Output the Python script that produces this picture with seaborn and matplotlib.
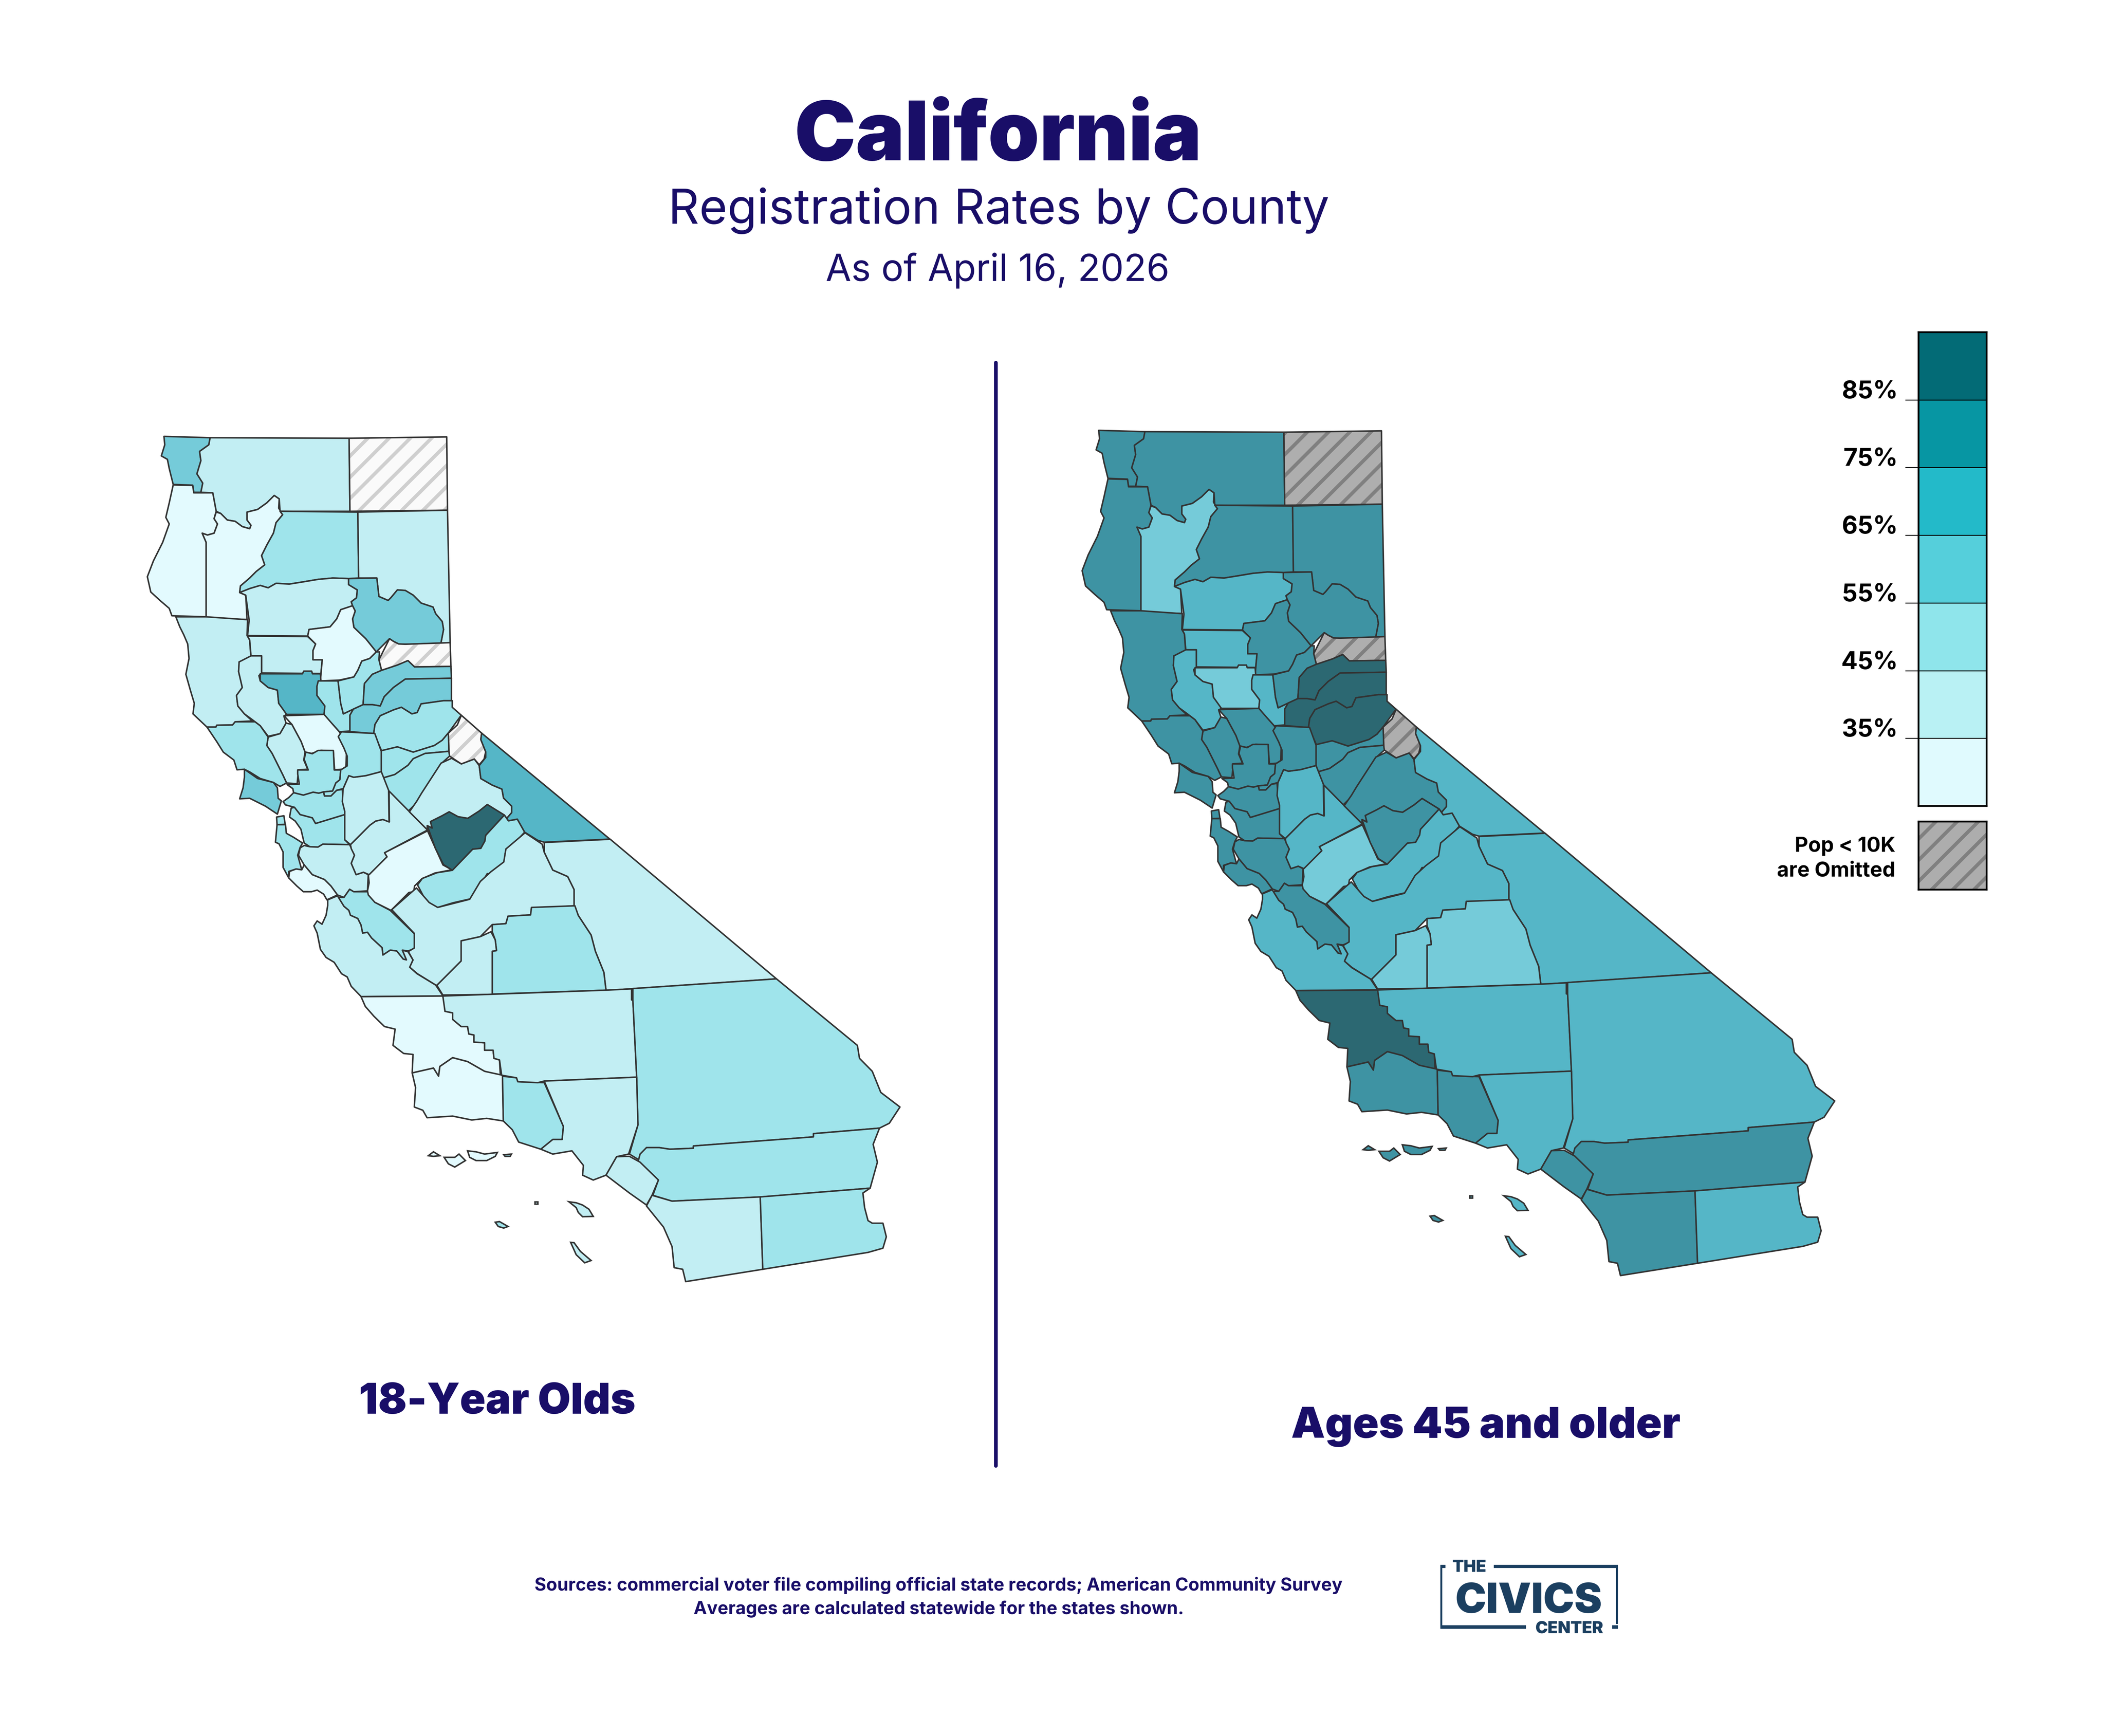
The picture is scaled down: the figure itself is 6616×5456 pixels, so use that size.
import numpy as np
import pandas as pd
import matplotlib
matplotlib.use('Agg')
import matplotlib.pyplot as plt
from matplotlib.colors import ListedColormap, BoundaryNorm
from matplotlib.patches import Polygon, Rectangle
import seaborn as sns

W, H = 6616, 5456

# county, registration rate of 18-year olds, rate of ages 45+ (nan = pop < 10K, omitted)
county_names = ['del_norte', 'siskiyou', 'modoc', 'humboldt', 'trinity', 'shasta', 'lassen', 'mendocino',
                'tehama', 'plumas', 'glenn', 'butte', 'sierra', 'lake', 'colusa', 'sutter', 'yuba', 'nevada',
                'placer', 'el_dorado', 'amador', 'alpine', 'calaveras', 'yolo', 'napa', 'sonoma', 'marin',
                'solano', 'contra_costa', 'alameda', 'san_francisco', 'san_mateo', 'santa_clara', 'santa_cruz',
                'san_benito', 'merced', 'stanislaus', 'san_joaquin', 'sacramento', 'tuolumne', 'mariposa',
                'madera', 'mono', 'inyo', 'fresno', 'tulare', 'kings', 'monterey', 'san_luis_obispo',
                'santa_barbara', 'ventura', 'kern', 'san_bernardino', 'riverside', 'los_angeles', 'orange',
                'san_diego', 'imperial']
rate_18 = [60, 40, np.nan, 30, 30, 50, 40, 40,
           40, 60, 40, 30, np.nan, 40, 70, 50, 50, 60,
           60, 50, 50, np.nan, 50, 30, 40, 50, 60,
           50, 50, 50, 50, 50, 40, 30,
           50, 30, 40, 40, 50, 40, 90,
           50, 70, 40, 40, 50, 40, 40, 30,
           30, 50, 40, 50, 50, 40, 40,
           40, 50]
rate_45 = [80, 80, np.nan, 80, 60, 80, 80, 80,
           70, 80, 70, 80, np.nan, 70, 60, 70, 80, 90,
           90, 90, 80, np.nan, 80, 80, 80, 80, 80,
           80, 80, 80, 80, 80, 80, 80,
           80, 60, 70, 70, 80, 80, 80,
           70, 70, 70, 70, 60, 60, 70, 90,
           80, 80, 70, 70, 80, 70, 80,
           80, 70]

class_edges = [0, 35, 45, 55, 65, 75, 85, 100]
legend_values = [90, 80, 70, 60, 50, 40, 30]
legend_ticks = ['85%', '75%', '65%', '55%', '45%', '35%']
legend_colors = ['#E0FAFE', '#B9F1F4', '#8FE5EB', '#55CFDB', '#23BAC9', '#0796A3', '#036B76']
map_colors = ['#E3FAFE', '#C2EEF3', '#9FE4EB', '#75CBD9', '#55B6C7', '#3E93A3', '#2C6872']

# outlines, each group in its own crop units
north = {
    'del_norte': [(115, 38), (290, 43), (285, 70), (250, 95), (255, 130), (240, 180), (262, 215), (255, 250), (228, 250), (224, 223), (150, 220), (135, 160), (128, 125), (105, 112), (118, 70)],
    'siskiyou': [(290, 43), (817, 45), (820, 322), (555, 322), (552, 275), (533, 262), (505, 290), (470, 315), (430, 325), (430, 355), (445, 375), (440, 388), (412, 380), (385, 360), (355, 355), (330, 330), (313, 322), (300, 252), (255, 250), (262, 215), (240, 180), (255, 130), (250, 95), (285, 70)],
    'modoc': [(817, 45), (1187, 40), (1190, 318), (820, 322)],
    'humboldt': [(150, 222), (224, 224), (228, 252), (300, 252), (313, 322), (305, 350), (318, 370), (305, 405), (280, 412), (260, 405), (275, 440), (275, 722), (145, 718), (135, 690), (100, 660), (65, 628), (52, 570), (75, 510), (110, 440), (135, 370), (122, 345), (135, 290)],
    'trinity': [(313, 325), (330, 330), (355, 355), (385, 360), (412, 380), (440, 388), (445, 375), (430, 355), (430, 325), (470, 315), (505, 290), (533, 262), (552, 275), (550, 310), (565, 335), (540, 365), (530, 405), (505, 450), (485, 490), (497, 525), (465, 550), (440, 575), (405, 605), (402, 630), (425, 640), (430, 732), (275, 730), (275, 440), (260, 405), (280, 412), (305, 405), (318, 370), (305, 350)],
    'shasta': [(555, 322), (850, 325), (853, 575), (815, 577), (755, 575), (700, 580), (640, 590), (590, 598), (540, 595), (510, 612), (480, 603), (440, 615), (402, 630), (405, 605), (440, 575), (465, 550), (497, 525), (485, 490), (505, 450), (530, 405), (540, 365), (565, 335)],
    'lassen': [(850, 325), (1190, 318), (1200, 820), (1165, 822), (1175, 770), (1170, 740), (1145, 710), (1135, 685), (1090, 670), (1060, 640), (1030, 622), (1000, 620), (975, 650), (965, 660), (930, 645), (922, 575), (853, 575)],
    'mendocino': [(160, 722), (275, 722), (432, 733), (430, 793), (440, 810), (445, 885), (400, 893), (398, 930), (412, 990), (390, 1020), (395, 1060), (420, 1090), (450, 1117), (385, 1120), (375, 1132), (315, 1133), (312, 1140), (278, 1140), (225, 1090), (230, 1050), (215, 1000), (198, 940), (210, 880), (205, 825), (190, 790), (175, 760)],
    'tehama': [(402, 630), (440, 615), (480, 603), (510, 612), (540, 595), (590, 598), (640, 590), (700, 580), (755, 575), (815, 577), (815, 600), (848, 620), (845, 650), (825, 665), (830, 680), (785, 695), (770, 730), (745, 760), (665, 770), (660, 795), (432, 793), (438, 735), (425, 640)],
    'plumas': [(815, 577), (922, 575), (930, 645), (965, 660), (975, 650), (1000, 620), (1030, 622), (1060, 640), (1090, 670), (1135, 685), (1145, 710), (1170, 740), (1175, 770), (1165, 822), (1030, 826), (1005, 825), (985, 815), (970, 805), (945, 830), (920, 855), (880, 805), (835, 762), (830, 730), (840, 700), (830, 680), (825, 665), (845, 650), (848, 620), (815, 600)],
    'glenn': [(432, 795), (660, 797), (690, 825), (680, 850), (680, 885), (715, 885), (710, 937), (485, 935), (485, 870), (445, 870), (440, 810)],
    'butte': [(665, 770), (745, 760), (770, 730), (785, 695), (830, 680), (840, 700), (830, 730), (835, 762), (880, 805), (920, 855), (895, 880), (865, 890), (850, 925), (835, 950), (780, 962), (708, 965), (715, 885), (680, 885), (680, 850), (690, 825), (660, 795)],
    'sierra': [(970, 805), (985, 815), (1005, 825), (1030, 826), (1200, 820), (1203, 910), (1065, 912), (1040, 888), (1000, 905), (940, 925), (930, 885), (945, 855)],
    'lake': [(445, 870), (485, 870), (485, 935), (475, 945), (480, 965), (510, 990), (545, 1000), (550, 1050), (580, 1090), (570, 1100), (578, 1125), (555, 1165), (510, 1175), (480, 1135), (450, 1112), (420, 1090), (395, 1060), (390, 1020), (412, 990), (398, 930), (400, 893)],
    'colusa': [(480, 938), (640, 938), (645, 928), (675, 928), (678, 938), (708, 938), (710, 965), (695, 985), (695, 1020), (725, 1060), (722, 1092), (580, 1092), (550, 1050), (545, 1000), (510, 990), (480, 965)],
    'sutter': [(700, 965), (775, 965), (785, 1050), (795, 1090), (833, 1072), (820, 1095), (820, 1155), (780, 1158), (755, 1130), (730, 1105), (722, 1092), (725, 1060), (695, 1020), (695, 985)],
    'yuba': [(775, 965), (835, 950), (850, 925), (865, 890), (895, 880), (920, 855), (932, 855), (930, 885), (940, 925), (905, 940), (875, 975), (870, 1055), (833, 1072), (795, 1090), (785, 1050)],
    'nevada': [(870, 1055), (875, 975), (905, 940), (940, 925), (1000, 905), (1040, 888), (1065, 912), (1203, 910), (1205, 955), (1030, 958), (985, 990), (950, 1025), (935, 1060), (905, 1055)],
    'placer': [(820, 1095), (833, 1072), (870, 1055), (905, 1055), (935, 1060), (950, 1025), (985, 990), (1030, 958), (1205, 955), (1205, 1040), (1175, 1040), (1090, 1052), (1075, 1085), (1055, 1090), (1015, 1065), (985, 1075), (935, 1097), (915, 1130), (910, 1165), (820, 1157)],
    'el_dorado': [(910, 1165), (915, 1130), (935, 1097), (985, 1075), (1015, 1065), (1055, 1090), (1075, 1085), (1090, 1052), (1175, 1040), (1208, 1040), (1208, 1065), (1242, 1095), (1195, 1160), (1170, 1190), (1140, 1210), (1060, 1235), (1000, 1215), (940, 1230), (925, 1195)],
    'amador': [(937, 1230), (1000, 1215), (1060, 1235), (1140, 1210), (1170, 1190), (1195, 1160), (1195, 1232), (1105, 1240), (1060, 1260), (1040, 1285), (990, 1320), (945, 1333), (938, 1305)],
    'calaveras': [(945, 1333), (990, 1320), (1040, 1285), (1060, 1260), (1105, 1240), (1195, 1232), (1198, 1250), (1170, 1275), (1130, 1345), (1090, 1410), (1070, 1430), (1040, 1460), (965, 1380)],
    'yolo': [(570, 1097), (722, 1092), (755, 1130), (780, 1158), (808, 1210), (805, 1290), (790, 1300), (762, 1302), (757, 1230), (710, 1228), (675, 1240), (650, 1235), (635, 1195), (600, 1130)],
    'napa': [(510, 1178), (555, 1165), (578, 1125), (600, 1130), (635, 1195), (650, 1235), (645, 1265), (660, 1300), (625, 1302), (620, 1355), (580, 1352), (565, 1320), (545, 1280), (525, 1240), (505, 1210)],
    'sonoma': [(278, 1140), (312, 1140), (315, 1133), (375, 1132), (385, 1120), (460, 1120), (480, 1135), (510, 1178), (505, 1210), (525, 1240), (545, 1280), (565, 1320), (580, 1352), (555, 1365), (530, 1350), (480, 1335), (440, 1310), (420, 1300), (392, 1302), (380, 1265), (340, 1235), (315, 1195)],
    'marin': [(420, 1300), (470, 1335), (530, 1350), (545, 1370), (548, 1410), (560, 1420), (545, 1470), (500, 1440), (480, 1430), (440, 1410), (402, 1412), (415, 1370), (420, 1330)],
}
bay = {
    'solano': [(355, 125), (395, 135), (430, 115), (525, 115), (530, 235), (570, 235), (565, 295), (540, 315), (520, 365), (465, 370), (435, 378), (400, 372), (340, 390), (280, 375), (275, 350), (240, 325), (315, 322), (305, 260), (305, 235), (370, 235), (345, 170)],
    'contra_costa': [(280, 375), (340, 390), (400, 372), (435, 378), (465, 370), (470, 395), (510, 395), (545, 360), (580, 355), (585, 430), (595, 490), (595, 510), (415, 565), (395, 530), (320, 510), (285, 465), (230, 450), (215, 430), (250, 405)],
    'alameda': [(265, 470), (285, 465), (320, 510), (395, 530), (415, 565), (595, 510), (595, 665), (625, 695), (460, 692), (430, 710), (380, 708), (345, 685), (325, 600), (290, 550), (255, 525)],
    'san_francisco': [(175, 525), (220, 517), (228, 570), (178, 572)],
    'san_mateo': [(178, 572), (230, 572), (235, 625), (280, 650), (335, 685), (320, 712), (305, 760), (330, 850), (295, 845), (250, 860), (250, 900), (215, 835), (215, 740), (190, 690), (168, 680)],
    'santa_clara': [(345, 700), (380, 708), (430, 710), (460, 692), (625, 695), (655, 760), (635, 810), (665, 880), (710, 865), (740, 880), (735, 980), (650, 985), (625, 970), (590, 1020), (550, 1005), (510, 950), (470, 910), (395, 880), (345, 820), (310, 760), (320, 715)],
    'santa_cruz': [(250, 900), (255, 860), (295, 845), (330, 850), (345, 820), (395, 880), (470, 910), (510, 950), (550, 1005), (485, 1035), (465, 1000), (425, 975), (390, 985), (340, 985), (300, 950)],
    'san_benito': [(555, 1020), (590, 1020), (625, 970), (650, 985), (740, 985), (780, 1050), (875, 1100), (1025, 1245), (1025, 1335), (985, 1350), (950, 1345), (975, 1405), (955, 1400), (915, 1350), (875, 1345), (830, 1375), (825, 1330), (760, 1270), (735, 1235), (705, 1240), (695, 1190), (675, 1150), (630, 1130), (620, 1100), (590, 1075)],
    'merced': [(740, 880), (855, 770), (840, 745), (1105, 610), (1200, 820), (1255, 850), (1150, 870), (1070, 905), (1025, 950), (1020, 985), (990, 990), (880, 1100), (780, 1050), (740, 1005), (735, 980), (745, 930)],
    'stanislaus': [(630, 695), (750, 575), (785, 550), (830, 540), (870, 555), (868, 365), (1105, 605), (840, 745), (855, 770), (745, 880), (710, 865), (665, 880), (635, 810), (655, 760), (635, 720)],
    'san_joaquin': [(585, 350), (620, 270), (650, 280), (725, 270), (820, 245), (865, 360), (868, 555), (830, 540), (785, 550), (750, 575), (630, 695), (595, 665), (595, 490), (580, 430)],
    'sacramento': [(575, 0), (780, 10), (820, 120), (820, 245), (725, 270), (650, 280), (620, 270), (585, 350), (545, 360), (510, 395), (470, 395), (465, 370), (520, 365), (540, 315), (565, 295), (570, 235), (610, 210), (610, 150), (590, 100), (555, 30)],
    'monterey': [(490, 1035), (550, 1010), (590, 1075), (620, 1100), (630, 1130), (675, 1150), (695, 1190), (705, 1240), (735, 1235), (760, 1270), (825, 1330), (830, 1375), (875, 1345), (915, 1350), (955, 1400), (975, 1405), (950, 1345), (985, 1355), (1015, 1405), (995, 1450), (1040, 1490), (1155, 1560), (1200, 1627), (696, 1631), (635, 1568), (610, 1510), (575, 1490), (530, 1420), (480, 1390), (445, 1340), (425, 1240), (405, 1195), (425, 1165), (455, 1185), (480, 1130), (490, 1070)],
}
sierra_south = {
    'alpine': [(490, 290), (615, 400), (610, 440), (640, 515), (630, 560), (600, 595), (570, 560), (490, 590), (415, 540), (410, 400), (465, 350)],
    'tuolumne': [(170, 885), (215, 820), (245, 770), (365, 585), (430, 555), (490, 590), (570, 560), (600, 600), (610, 680), (680, 720), (740, 745), (750, 800), (800, 850), (800, 890), (770, 925), (755, 905), (650, 840), (600, 880), (530, 925), (470, 915), (415, 885), (370, 910), (300, 945), (310, 985), (280, 970), (280, 995)],
    'mariposa': [(280, 970), (310, 985), (300, 945), (370, 910), (415, 885), (470, 915), (530, 925), (600, 880), (650, 840), (755, 905), (640, 1030), (635, 1065), (610, 1110), (560, 1115), (435, 1245), (380, 1210), (330, 1110)],
    'madera': [(435, 1245), (560, 1115), (610, 1110), (635, 1065), (640, 1030), (755, 905), (780, 940), (835, 930), (880, 1010), (760, 1140), (755, 1230), (690, 1275), (650, 1265), (610, 1330), (550, 1420), (440, 1445), (340, 1475), (270, 1430), (220, 1335), (250, 1295), (340, 1260)],
    'mono': [(615, 400), (1405, 1053), (1000, 1072), (960, 1060), (880, 1010), (835, 930), (780, 940), (770, 925), (800, 890), (800, 850), (750, 800), (740, 745), (680, 720), (610, 680), (600, 600), (640, 550), (640, 515), (610, 440)],
}
south = {
    'inyo': [(680, 145), (835, 135), (1225, 565), (835, 600), (825, 600), (820, 545), (800, 480), (790, 430), (760, 370), (750, 340), (750, 290), (735, 250), (700, 230), (680, 175)],
    'fresno': [(322, 352), (380, 285), (410, 330), (430, 345), (505, 320), (530, 265), (555, 235), (585, 205), (590, 165), (635, 115), (675, 150), (680, 175), (700, 230), (735, 250), (750, 290), (750, 340), (650, 348), (648, 368), (595, 372), (590, 395), (558, 398), (530, 435), (485, 448), (485, 510), (428, 585), (425, 584), (382, 549), (364, 529), (372, 507), (361, 481), (375, 470), (375, 425)],
    'tulare': [(558, 398), (590, 395), (595, 372), (648, 368), (650, 345), (752, 340), (760, 370), (790, 430), (800, 480), (820, 545), (825, 600), (558, 612), (558, 480), (568, 478), (565, 445), (558, 420)],
    'kings': [(485, 448), (530, 435), (555, 420), (565, 445), (568, 478), (558, 480), (558, 613), (442, 615), (428, 585), (485, 510)],
    'san_luis_obispo': [(250, 620), (445, 618), (447, 665), (465, 670), (465, 690), (485, 712), (500, 712), (503, 735), (515, 738), (515, 760), (540, 762), (540, 785), (560, 785), (562, 810), (575, 815), (577, 862), (540, 850), (500, 820), (465, 808), (435, 835), (432, 865), (420, 840), (370, 855), (372, 798), (350, 795), (325, 770), (330, 720), (305, 712), (280, 680), (260, 650)],
    'santa_barbara': [(370, 855), (420, 840), (432, 865), (435, 835), (465, 808), (500, 820), (540, 850), (582, 862), (584, 1003), (545, 995), (510, 1000), (465, 988), (405, 993), (395, 970), (375, 960), (378, 900)],
    'ventura': [(582, 865), (615, 870), (618, 882), (680, 885), (725, 1020), (722, 1060), (700, 1060), (672, 1090), (620, 1068), (605, 1030), (584, 1003)],
    'kern': [(442, 618), (825, 600), (885, 596), (885, 630), (888, 630), (897, 868), (680, 880), (665, 885), (618, 882), (615, 870), (580, 862), (575, 815), (562, 810), (560, 785), (540, 785), (540, 762), (515, 760), (515, 738), (503, 735), (500, 712), (485, 712), (465, 690), (465, 670), (447, 665)],
    'san_bernardino': [(888, 595), (1215, 566), (1225, 565), (1415, 770), (1420, 810), (1450, 850), (1470, 915), (1515, 960), (1490, 1010), (1467, 1025), (1312, 1042), (1312, 1052), (1030, 1080), (1030, 1087), (975, 1090), (950, 1085), (920, 1085), (905, 1125), (880, 1105), (900, 1015), (897, 868), (888, 630)],
    'riverside': [(920, 1085), (950, 1085), (975, 1090), (1030, 1087), (1030, 1080), (1312, 1052), (1312, 1042), (1467, 1025), (1452, 1075), (1462, 1130), (1445, 1210), (1190, 1237), (980, 1250), (935, 1232), (948, 1185), (900, 1130), (905, 1105)],
    'los_angeles': [(680, 880), (897, 868), (900, 1015), (878, 1105), (850, 1113), (825, 1170), (795, 1185), (770, 1170), (772, 1140), (745, 1095), (700, 1105), (672, 1090), (700, 1060), (722, 1060), (725, 1020)],
    'orange': [(850, 1113), (880, 1112), (905, 1130), (948, 1185), (933, 1232), (920, 1262), (880, 1225), (825, 1170)],
    'san_diego': [(933, 1232), (980, 1250), (1187, 1237), (1193, 1460), (1012, 1498), (1005, 1460), (985, 1455), (980, 1390), (960, 1330), (920, 1265)],
    'imperial': [(1187, 1237), (1445, 1210), (1428, 1225), (1432, 1270), (1440, 1310), (1450, 1318), (1475, 1318), (1483, 1360), (1475, 1395), (1440, 1408), (1193, 1460)],
}
islands = [
    ('santa_barbara', [(408, 1110), (420, 1098), (435, 1110), (420, 1112)]),
    ('santa_barbara', [(445, 1115), (470, 1115), (480, 1105), (495, 1125), (470, 1145), (455, 1135)]),
    ('santa_barbara', [(500, 1095), (520, 1098), (540, 1105), (570, 1100), (565, 1112), (545, 1125), (520, 1125), (505, 1115)]),
    ('ventura', [(585, 1107), (603, 1105), (600, 1112), (588, 1112)]),
    ('los_angeles', [(658, 1252), (665, 1252), (665, 1259), (658, 1259)]),
    ('los_angeles', [(738, 1252), (755, 1255), (770, 1262), (785, 1275), (795, 1297), (770, 1298), (760, 1285), (755, 1270)]),
    ('ventura', [(565, 1315), (575, 1313), (595, 1328), (585, 1333), (572, 1328)]),
    ('los_angeles', [(742, 1377), (750, 1378), (765, 1405), (790, 1433), (775, 1440), (755, 1415)]),
]


def to_map(points, x0, y0, sx, sy):
    # crop units to map units (pixels of the left map)
    arr = np.array(points, dtype=float)
    return np.column_stack([x0 + arr[:, 0] * sx, y0 + arr[:, 1] * sy])


outlines = {}
for name, pts in north.items():
    outlines[name] = to_map(pts, 420, 1340, 0.829, 0.829)
for name, pts in bay.items():
    outlines[name] = to_map(pts, 780, 2300, 0.5102, 0.5102)
for name, pts in sierra_south.items():
    outlines[name] = to_map(pts, 1200, 2100, 0.5102, 0.5102)
for name, pts in south.items():
    outlines[name] = to_map(pts, 800, 2500, 1.339, 1.02)

df = pd.DataFrame({'county': county_names, 'rate_18': rate_18, 'rate_45': rate_45}).set_index('county')

sns.set_theme(style='white')
plt.rcParams['font.family'] = ['Inter', 'DejaVu Sans']
plt.rcParams['hatch.linewidth'] = 2.0

NAVY = '#190E68'
LOGO = '#1B3F60'
EDGE = '#333333'
map_pal = sns.color_palette(map_colors)
legend_pal = sns.color_palette(legend_colors)
map_norm = BoundaryNorm(class_edges, 7)
map_cmap = ListedColormap(map_pal)

fig = plt.figure(figsize=(W / 400, H / 400), dpi=400, facecolor='white')


def add_px_axes(x0, y0, x1, y1):
    return fig.add_axes([x0 / W, 1 - y1 / H, (x1 - x0) / W, (y1 - y0) / H])


def put_text(x, y, s, size, weight='normal', color=NAVY, ha='center', va='baseline'):
    return fig.text(x / W, 1 - y / H, s, fontsize=size, fontweight=weight, color=color, ha=ha, va=va)


def draw_map(column, dx, dy, hatch_face, hatch_line):
    ax = add_px_axes(400 + dx, 1300 + dy, 2900 + dx, 4100 + dy)
    ax.set_xlim(400, 2900)
    ax.set_ylim(4100, 1300)
    ax.axis('off')
    ax.patch.set_alpha(0)
    for name in df.index:
        pts = outlines[name]
        value = df.loc[name, column]
        if np.isnan(value):
            ax.add_patch(Polygon(pts, closed=True, facecolor=hatch_face, edgecolor=hatch_line, hatch='//', lw=0))
            ax.add_patch(Polygon(pts, closed=True, fill=False, edgecolor=EDGE, lw=0.85, joinstyle='round'))
        else:
            ax.add_patch(Polygon(pts, closed=True, facecolor=map_cmap(map_norm(value)), edgecolor=EDGE, lw=0.85, joinstyle='round'))
    for parent, pts in islands:
        ring = to_map(pts, 800, 2500, 1.339, 1.02)
        ax.add_patch(Polygon(ring, closed=True, facecolor=map_cmap(map_norm(df.loc[parent, column])), edgecolor=EDGE, lw=0.85))
    return ax


draw_map('rate_18', 0, 0, '#FAFAFA', '#CFCFCF')
draw_map('rate_45', 2938, -19, '#AEAEAE', '#808080')

# divider between the two maps
div = add_px_axes(3080, 1100, 3180, 4650)
div.plot([0.5, 0.5], [1140, 4607], color=NAVY, lw=2.1, solid_capstyle='round')
div.set_xlim(0, 1)
div.set_ylim(4650, 1100)
div.axis('off')

# legend
cax = add_px_axes(6030, 1044, 6244, 2533)
sns.heatmap(np.array(legend_values).reshape(-1, 1), ax=cax, cmap=ListedColormap(legend_pal), norm=map_norm,
            cbar=False, linewidths=0.5, linecolor='black', xticklabels=False)
cax.set_yticks(np.arange(1, 7))
cax.set_yticklabels([])
cax.tick_params(axis='y', left=True, length=7.5, width=0.5, color='black')
for spine in cax.spines.values():
    spine.set_visible(True)
    spine.set_color('black')
    spine.set_linewidth(1.0)
for i, label in enumerate(legend_ticks):
    put_text(5965, 1044 + (i + 1) * 1489 / 7 - 5, label, 13.8, 'bold', 'black', ha='right')

oax = add_px_axes(6030, 2582, 6244, 2796)
oax.add_patch(Rectangle((0, 0), 1, 1, facecolor='#ADADAD', edgecolor='#808080', hatch='//', lw=0))
oax.set_xlim(0, 1)
oax.set_ylim(0, 1)
oax.set_xticks([])
oax.set_yticks([])
for spine in oax.spines.values():
    spine.set_visible(True)
    spine.set_color('black')
    spine.set_linewidth(1.0)

put_text(5957, 2660, 'Pop < 10K', 11.7, 'bold', 'black', ha='right', va='center')
put_text(5957, 2737, 'are Omitted', 11.7, 'bold', 'black', ha='right', va='center')

# headings
put_text(3137, 504, 'California', 46.5, 'black')
put_text(3139, 703, 'Registration Rates by County', 27.3, 'normal')
put_text(3135, 883, 'As of April 16, 2026', 21, 'normal')
put_text(1563, 4408, '18-Year Olds', 24, 'black', va='center')
put_text(4670, 4484, 'Ages 45 and older', 24.2, 'black', va='center')

# sources
put_text(2950, 4999, 'Sources: commercial voter file compiling official state records; American Community Survey', 10.1, 'bold')
put_text(2950, 5073, 'Averages are calculated statewide for the states shown.', 10.1, 'bold')

# logo
lax = add_px_axes(4500, 4880, 5120, 5150)
lax.set_xlim(4500, 5120)
lax.set_ylim(5150, 4880)
lax.axis('off')
for x, y, w, h in [(4695, 4918, 390, 10), (4527, 5108, 269, 11), (4527, 4928, 6, 180), (5079, 4918, 6, 186),
                   (4527, 4918, 16, 10), (5067, 5108, 18, 11)]:
    lax.add_patch(Rectangle((x, y), w, h, facecolor=LOGO, edgecolor='none'))
put_text(4618, 4940, 'THE', 9.4, 'black', LOGO)
put_text(4805, 5069, 'CIVICS', 23.5, 'black', LOGO)
put_text(4932, 5133, 'CENTER', 9.4, 'black', LOGO)

plt.savefig('out.png', dpi=400, facecolor='white')
plt.close()
